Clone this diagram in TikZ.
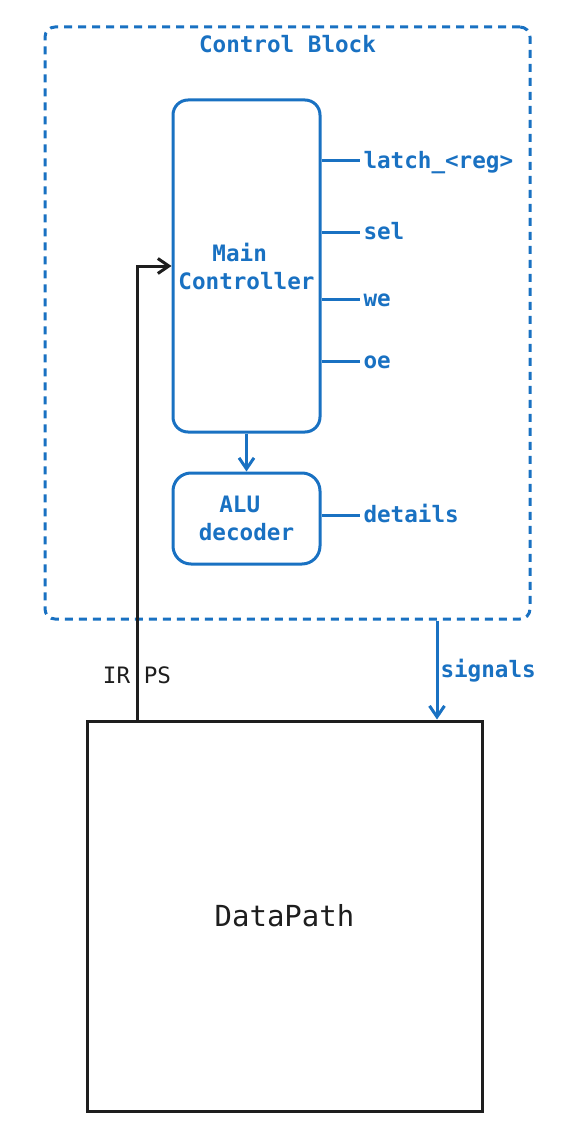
\documentclass[tikz,border=0pt]{standalone}
\usepackage{fontspec}
\setmonofont{DejaVu Sans Mono}
\usetikzlibrary{positioning, arrows.meta}
\definecolor{ctrlblue}{HTML}{1971C2}
\definecolor{ink}{HTML}{1E1E1E}
\tikzset{
  blk/.style={draw, line width=3pt, align=center, font=\fontsize{22.6}{28}\selectfont\ttfamily\bfseries},
  sig/.style={text=ctrlblue, inner sep=2pt, anchor=west, text height=18pt, text depth=4pt, font=\fontsize{22.6}{27}\selectfont\ttfamily\bfseries}
}

\begin{document}
\begin{tikzpicture}[x=1pt, y=-1pt, >={Straight Barb[length=11pt,width=15pt]}, line width=3pt]
  \useasboundingbox (0,0) rectangle (570,1134);
  % control block frame
  \node[draw=ctrlblue, dash pattern=on 8pt off 6pt, rounded corners=10pt, minimum width=485pt, minimum height=592pt] (ctrl) at (287.5,323) {};
  \node[sig, anchor=center, below=6pt of ctrl.north] (ctrltitle) {Control Block};
  % controllers
  \node[blk, draw=ctrlblue, text=ctrlblue, rounded corners=15pt, minimum width=147pt, minimum height=332pt] (main) at (246.5,266) {Main\hphantom{ }\\Controller};
  \node[blk, draw=ctrlblue, text=ctrlblue, rounded corners=18pt, minimum width=147pt, minimum height=91pt, below=38pt of main] (alu) {ALU\hphantom{ }\\decoder};
  \draw[->, ctrlblue] (main) -- (alu);
  % outputs of the main controller
  \node[sig] (latch) at (360,161) {latch\_<reg>};
  \node[sig] (sel) at (360,232) {sel};
  \node[sig] (we) at (360,299) {we};
  \node[sig] (oe) at (360,361) {oe};
  \node[sig] (details) at (360,515) {details};
  \foreach \s in {latch, sel, we, oe}
    \draw[ctrlblue] (\s.west -| main.east) -- (\s.west);
  \draw[ctrlblue] (details.west -| alu.east) -- (details.west);
  % datapath
  \node[blk, draw=ink, text=ink, font=\fontsize{29}{34}\selectfont\ttfamily, minimum width=395pt, minimum height=390pt] (dp) at (284.5,916) {DataPath};
  \coordinate (irx) at (137,0);
  \coordinate (sigx) at (437,0);
  \draw[->, ink] (dp.north -| irx) |- (main.west);
  \node[text=ink, font=\fontsize{22.6}{27}\selectfont\ttfamily] (irps) at (137,675) {IR PS};
  \draw[->, ctrlblue] (ctrl.south -| sigx) -- (dp.north -| sigx) node[sig, midway] (signals) {signals};
\end{tikzpicture}
\end{document}
